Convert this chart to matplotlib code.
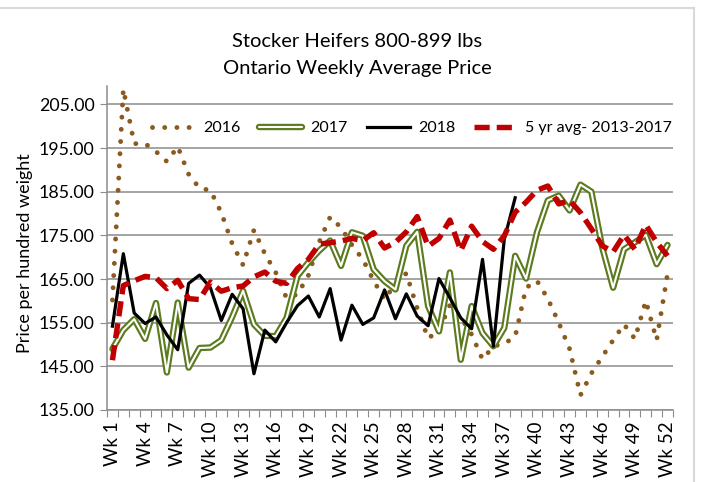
import matplotlib
matplotlib.use("Agg")
import matplotlib.pyplot as plt
from matplotlib.lines import Line2D
import numpy as np

plt.rcParams['font.family'] = ['Lato', 'DejaVu Sans']

weeks = list(range(1, 53))
week_labels = [f"Wk {w}" for w in weeks]
label_weeks = list(range(1, 53, 3))

y2016 = [160.2, 208.5, 196.0, 196.0, 194.2, 191.9, 195.3, 189.0, 185.8, 185.3,
         180.2, 173.1, 168.2, 176.2, 170.8, 166.5, 160.6, 161.5, 165.8, 173.5,
         179.2, 176.8, 172.8, 169.5, 164.6, 160.3, 164.0, 166.3, 158.3, 151.4,
         153.2, 159.0, 156.2, 152.3, 146.6, 149.6, 150.2, 151.8, 163.0, 164.6,
         160.5, 155.0, 149.0, 138.4, 143.4, 147.2, 151.0, 154.6, 151.3, 160.0,
         151.0, 166.2]

y2017 = [149.0, 153.3, 155.8, 151.3, 159.5, 143.6, 159.6, 144.7, 149.2, 149.3,
         151.0, 156.3, 162.3, 154.6, 152.0, 151.9, 156.1, 165.7, 168.8, 171.5,
         173.8, 168.0, 175.7, 174.9, 167.2, 164.5, 162.6, 172.6, 175.8, 158.8,
         153.0, 166.5, 146.5, 158.8, 152.6, 149.6, 153.8, 170.3, 165.1, 175.7,
         183.0, 184.1, 180.7, 186.6, 185.0, 172.2, 163.0, 171.8, 173.4, 175.1,
         168.4, 172.8]

y2018 = [154.2, 170.8, 157.2, 154.8, 156.3, 152.2, 148.8, 164.0, 165.9, 163.0,
         155.5, 161.5, 158.2, 143.3, 153.3, 150.6, 155.0, 158.9, 161.1, 156.3,
         162.8, 151.0, 159.0, 154.6, 156.1, 162.5, 155.9, 161.6, 156.5, 154.3,
         165.1, 160.7, 156.1, 153.6, 169.5, 149.6, 174.1, 183.6]

y5yr = [146.4, 163.5, 164.6, 165.6, 165.3, 162.8, 164.7, 160.5, 160.3, 164.3,
        162.2, 163.0, 163.4, 165.5, 166.6, 164.5, 164.0, 167.4, 169.5, 173.0,
        173.3, 173.7, 174.3, 173.8, 175.6, 172.1, 173.4, 175.8, 179.3, 172.5,
        174.3, 178.5, 171.5, 177.1, 173.6, 171.8, 174.9, 180.3, 182.6, 185.3,
        186.3, 182.2, 183.0, 180.2, 176.5, 172.6, 171.2, 175.1, 171.8, 177.4,
        173.4, 170.3]

yticks = [135, 145, 155, 165, 175, 185, 195, 205]

title = "Stocker Heifers 800-899 lbs\nOntario Weekly Average Price"
ylabel = "Price per hundred weight"
names = ["2016", "2017", "2018", "5 yr avg- 2013-2017"]

c2016 = '#8b5a1f'
c2017 = '#5b7b1e'
c2018 = '#000000'
c5yr = '#c00000'
grid_c = '#8c8c8c'

fig = plt.figure(figsize=(7.02, 4.82), dpi=100)
ax = fig.add_axes([107/702, 1 - 410/482, (673 - 107)/702, (410 - 86)/482])

ax.set_ylim(135, 209.2)
ax.set_xlim(0.5, 52.5)
ax.set_yticks(yticks)
ax.set_yticklabels([f"{v:.2f}" for v in yticks], fontsize=12.8)
ax.yaxis.grid(True, color=grid_c, lw=1.1)
ax.set_axisbelow(True)

ax.set_xticks(np.arange(0.5, 53, 1))
ax.set_xticklabels([])
ax.tick_params(axis='x', which='major', length=5, color=grid_c, direction='out')
ax.set_xticks(label_weeks, minor=True)
ax.set_xticklabels([week_labels[w - 1] for w in label_weeks], minor=True,
                   rotation=90, fontsize=13.5)
ax.tick_params(axis='x', which='minor', length=0, pad=8)
ax.tick_params(axis='y', length=5, color=grid_c, direction='out', pad=4)

for s in ['top', 'right']:
    ax.spines[s].set_visible(False)
for s in ['left', 'bottom']:
    ax.spines[s].set_color(grid_c)
    ax.spines[s].set_linewidth(1.1)

l16, = ax.plot(weeks, y2016, color=c2016, lw=3.5, linestyle=(0, (0.01, 2.5)),
               dash_capstyle='round', zorder=2)
l17a, = ax.plot(weeks, y2017, color=c2017, lw=4.6, solid_joinstyle='round',
                solid_capstyle='round', zorder=3)
l17b, = ax.plot(weeks, y2017, color='white', lw=1.5, solid_joinstyle='round',
                solid_capstyle='round', zorder=3.1)
l18, = ax.plot(weeks[:len(y2018)], y2018, color=c2018, lw=2.3,
               solid_joinstyle='round', zorder=4)
l5, = ax.plot(weeks, y5yr, color=c5yr, lw=3.9, linestyle=(0, (2.8, 1.3)), zorder=5)

leg = ax.legend([l16, (l17a, l17b), l18, l5], names, ncol=4, frameon=False,
                loc='center', bbox_to_anchor=(412/702, 1 - 128/482),
                bbox_transform=fig.transFigure, fontsize=11.5,
                handlelength=2.7, handletextpad=0.5, columnspacing=1.2)

fig.text(357/702, 1 - 55/482, title, ha='center', va='center', fontsize=14.5,
         linespacing=1.7)
fig.text(25/702, 1 - 253/482, ylabel, ha='center', va='center', rotation=90,
         fontsize=13)

border = '#d9d9d9'
fig.add_artist(Line2D([0, 694/702], [1 - 8/482, 1 - 8/482], color=border, lw=1.5,
                      transform=fig.transFigure))
fig.add_artist(Line2D([694/702, 694/702], [1 - 8/482, 0], color=border, lw=1.5,
                      transform=fig.transFigure))

fig.savefig("out.png", dpi=100)
